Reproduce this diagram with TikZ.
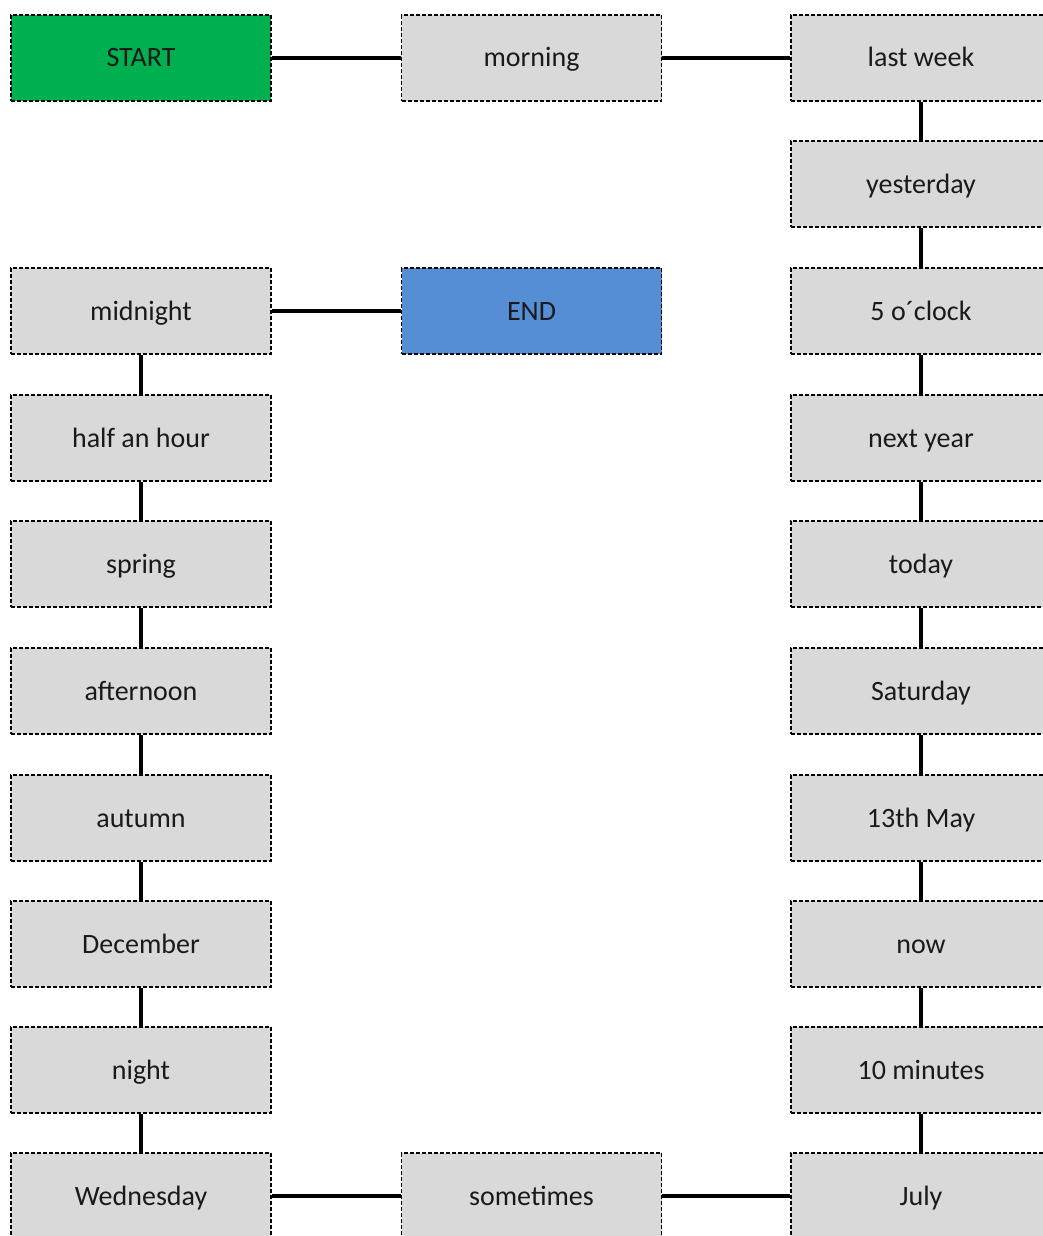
\documentclass[tikz,border=0pt]{standalone}
\usepackage{fontspec}
\setmainfont{Carlito}
\definecolor{boxgray}{HTML}{D9D9D9}
\definecolor{startgreen}{HTML}{00B050}
\definecolor{endblue}{HTML}{558ED5}
\definecolor{txt}{HTML}{1A1A1A}
\begin{document}
\begin{tikzpicture}[x=1pt,y=-1pt,
  wbox/.style={draw=black, line width=1.4pt, dash pattern=on 4pt off 2pt, fill=boxgray,
    minimum width=260pt, minimum height=86pt, inner sep=0pt, text=txt,
    text height=22pt, text depth=4pt,
    font=\fontsize{28}{32}\selectfont},
  link/.style={line width=3.2pt, black}]
\useasboundingbox (0,0) rectangle (1043,1236);
\clip (0,0) rectangle (1043,1236);
% top row
\node[wbox, fill=startgreen] (start) at (141,58) {START};
\node[wbox] (morning) at (531.5,58) {morning};
\node[wbox] (lastweek) at (921,58) {last week};
% right column
\node[wbox] (yesterday) at (921,184) {yesterday};
\node[wbox] (five) at (921,311) {5 o\textasciiacute clock};
\node[wbox] (nextyear) at (921,438) {next year};
\node[wbox] (today) at (921,564) {today};
\node[wbox] (saturday) at (921,691) {Saturday};
\node[wbox] (may) at (921,818) {13th May};
\node[wbox] (now) at (921,944) {now};
\node[wbox] (tenmin) at (921,1070) {10 minutes};
\node[wbox] (july) at (921,1196) {July};
% bottom
\node[wbox] (sometimes) at (531.5,1196) {sometimes};
\node[wbox] (wednesday) at (141,1196) {Wednesday};
% left column
\node[wbox] (night) at (141,1070) {night};
\node[wbox] (december) at (141,944) {December};
\node[wbox] (autumn) at (141,818) {autumn};
\node[wbox] (afternoon) at (141,691) {afternoon};
\node[wbox] (spring) at (141,564) {spring};
\node[wbox] (halfhour) at (141,438) {half an hour};
\node[wbox] (midnight) at (141,311) {midnight};
\node[wbox, fill=endblue] (end) at (531.5,311) {END};
% connectors
\draw[link] (start) -- (morning);
\draw[link] (morning) -- (lastweek);
\draw[link] (lastweek) -- (yesterday);
\draw[link] (yesterday) -- (five);
\draw[link] (five) -- (nextyear);
\draw[link] (nextyear) -- (today);
\draw[link] (today) -- (saturday);
\draw[link] (saturday) -- (may);
\draw[link] (may) -- (now);
\draw[link] (now) -- (tenmin);
\draw[link] (tenmin) -- (july);
\draw[link] (july) -- (sometimes);
\draw[link] (sometimes) -- (wednesday);
\draw[link] (wednesday) -- (night);
\draw[link] (night) -- (december);
\draw[link] (december) -- (autumn);
\draw[link] (autumn) -- (afternoon);
\draw[link] (afternoon) -- (spring);
\draw[link] (spring) -- (halfhour);
\draw[link] (halfhour) -- (midnight);
\draw[link] (midnight) -- (end);
\end{tikzpicture}
\end{document}
